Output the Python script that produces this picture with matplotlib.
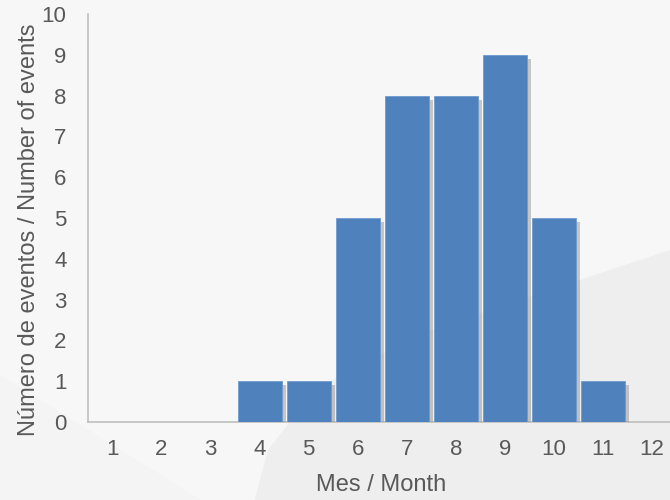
import matplotlib.pyplot as plt
import matplotlib.patheffects as pe
from matplotlib.patches import Polygon

plt.rcParams['font.family'] = ['Liberation Sans', 'DejaVu Sans']

# datos
meses = [1, 2, 3, 4, 5, 6, 7, 8, 9, 10, 11, 12]
eventos = [0, 0, 0, 1, 1, 5, 8, 8, 9, 5, 1, 0]

gris = '#595959'
azul = '#4f81bd'

fig = plt.figure(figsize=(6.7, 5.0), dpi=100)
fig.patch.set_facecolor('#f7f7f7')

# fondo: cuña mas oscura abajo a la derecha
bg = fig.add_axes([0, 0, 1, 1], zorder=-5)
bg.set_xlim(0, 1)
bg.set_ylim(0, 1)
bg.axis('off')
bg.add_patch(Polygon([(0.38, 0.0), (0.40, 0.10), (0.47, 0.22), (0.62, 0.33), (0.82, 0.42),
                      (1.0, 0.50), (1.0, 0.0)],
                     closed=True, facecolor='#eeeeee', edgecolor='none'))
bg.add_patch(Polygon([(0.0, 0.0), (0.0, 0.25), (0.3, 0.0)],
                     closed=True, facecolor='#f4f4f4', edgecolor='none'))

ax = fig.add_axes([88 / 670, 78 / 500, 588.5 / 670, 408 / 500])
ax.set_facecolor('none')

barras = ax.bar(meses, eventos, width=0.9, color=azul, edgecolor='#6f9bd0', linewidth=0.6, zorder=3)
for b in barras:
    b.set_path_effects([pe.SimplePatchShadow(offset=(3, -3), shadow_rgbFace='#8a8a8a', alpha=0.45),
                        pe.Normal()])

ax.set_xlim(0.5, 12.5)
ax.set_ylim(0, 10)
ax.set_xticks(meses)
ax.set_yticks(range(0, 11))

for s in ['top', 'right']:
    ax.spines[s].set_visible(False)
for s in ['left', 'bottom']:
    ax.spines[s].set_color('#bfbfbf')
    ax.spines[s].set_linewidth(1.2)

ax.tick_params(axis='both', length=0, labelsize=16, labelcolor=gris)
ax.tick_params(axis='y', pad=15.5)
ax.tick_params(axis='x', pad=12)

ax.set_xlabel('Mes / Month', fontsize=17, color=gris)
ax.set_ylabel('Número de eventos / Number of events', fontsize=17, color=gris)
ax.xaxis.set_label_coords(0.498, -0.127)
ax.yaxis.set_label_coords(-0.082, 0.47)

plt.savefig('out.png', dpi=100, facecolor=fig.get_facecolor())
